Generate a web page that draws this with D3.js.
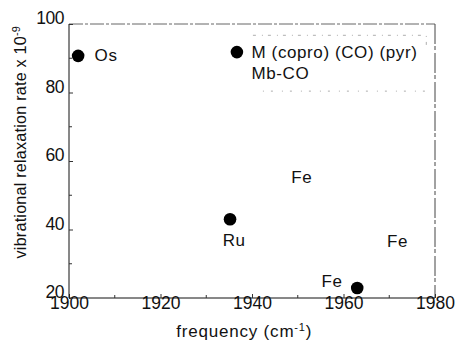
<!DOCTYPE html>
<html>
<head>
<meta charset="utf-8">
<script src="https://cdn.jsdelivr.net/npm/d3@7"></script>
<style>
  body { margin: 0; background: #fff; }
  svg { display: block; font-family: "Liberation Sans", Arial, sans-serif; }
  .tick text { font-size: 17.5px; fill: #111; }
</style>
</head>
<body>
<div id="chart"></div>
<script>
// data
const pointNames = ['Os', 'M (copro) (CO) (pyr)', 'Ru', 'Fe'];
const frequency = [1902, 1936.7, 1935.2, 1963];
const rate = [90.7, 91.8, 43, 22.9];

// text annotations placed in data units
const labelText = ['Os', 'M (copro) (CO) (pyr)', 'Mb-CO', 'Fe', 'Ru', 'Fe', 'Fe'];
const labelX = [1905.6, 1939.9, 1939.9, 1950.9, 1936.1, 1969.5, 1957.5];
const labelY = [90.8, 91.8, 85.7, 55.3, 36.9, 36.6, 25.0];
const labelAnchor = ['start', 'start', 'start', 'middle', 'middle', 'start', 'middle'];

const xTicks = [1900, 1920, 1940, 1960, 1980];
const yTicks = [20, 40, 60, 80, 100];
const xMinor = [1910, 1930, 1950, 1970];
const yMinor = [30, 50, 70, 90];

const width = 456, height = 341;
const margin = { top: 24, right: 21, bottom: 43, left: 69 };
const innerW = width - margin.left - margin.right;
const innerH = height - margin.top - margin.bottom;

const svg = d3.select('#chart').append('svg')
  .attr('width', width)
  .attr('height', height);

const g = svg.append('g')
  .attr('transform', 'translate(' + margin.left + ',' + margin.top + ')');

const x = d3.scaleLinear().domain([1900, 1980]).range([0, innerW]);
const y = d3.scaleLinear().domain([20, 100]).range([innerH, 0]);

// frame: top and right are faint in the scan
g.append('line')
  .attr('x1', 0).attr('x2', innerW).attr('y1', 0).attr('y2', 0)
  .attr('stroke', '#666').attr('stroke-dasharray', '14 2 3 2');
g.append('line')
  .attr('x1', innerW).attr('x2', innerW).attr('y1', 0).attr('y2', innerH)
  .attr('stroke', '#444').attr('stroke-dasharray', '20 2 4 3');

// axes
const xAxis = g.append('g')
  .attr('transform', 'translate(0,' + innerH + ')')
  .call(d3.axisBottom(x).tickValues(xTicks).tickFormat(d3.format('d')).tickSize(-4).tickPadding(1));
const yAxis = g.append('g')
  .call(d3.axisLeft(y).tickValues(yTicks).tickSize(-4).tickPadding(5));

xAxis.select('.domain').attr('stroke', '#111').attr('d', 'M0,0H' + innerW);
yAxis.select('.domain').attr('stroke', '#111').attr('d', 'M0,0V' + innerH);
xAxis.selectAll('.tick line').attr('stroke', '#333');
yAxis.selectAll('.tick line').attr('stroke', '#333');
yAxis.selectAll('.tick text').attr('dy', '-0.02em').attr('letter-spacing', -0.5);
xAxis.selectAll('.tick text').attr('dy', '0.55em');

// minor ticks
g.append('g').selectAll('line').data(xMinor).enter().append('line')
  .attr('x1', d => x(d)).attr('x2', d => x(d))
  .attr('y1', innerH).attr('y2', innerH - 3)
  .attr('stroke', '#333');
g.append('g').selectAll('line').data(yMinor).enter().append('line')
  .attr('x1', 0).attr('x2', 3)
  .attr('y1', d => y(d)).attr('y2', d => y(d))
  .attr('stroke', '#333');

// faint dotted box around the legend-like label block
const boxL = x(1940.2), boxR = x(1978.1), boxT = y(96.7), boxB = y(80.4);
g.append('path')
  .attr('d', 'M' + boxL + ',' + boxT + 'H' + boxR + 'V' + (boxT + 14))
  .attr('fill', 'none').attr('stroke', '#999').attr('stroke-width', 0.8)
  .attr('stroke-dasharray', '3 6 1 5');
g.append('path')
  .attr('d', 'M' + (boxL + 10) + ',' + boxB + 'H' + boxR)
  .attr('fill', 'none').attr('stroke', '#999').attr('stroke-width', 0.8)
  .attr('stroke-dasharray', '1 7 2 9');

// points
g.append('g').selectAll('circle')
  .data(pointNames.map((n, i) => ({ name: n, f: frequency[i], r: rate[i] })))
  .enter().append('circle')
  .attr('cx', d => x(d.f))
  .attr('cy', d => y(d.r))
  .attr('r', 6.3)
  .attr('fill', '#000');

// labels
g.append('g').selectAll('text')
  .data(labelText.map((t, i) => ({ t: t, x: labelX[i], y: labelY[i], a: labelAnchor[i] })))
  .enter().append('text')
  .attr('x', d => x(d.x))
  .attr('y', d => y(d.y))
  .attr('dy', '0.35em')
  .attr('text-anchor', d => d.a)
  .attr('font-size', 17)
  .attr('letter-spacing', 0.6)
  .attr('fill', '#111')
  .text(d => d.t);

// axis titles
const xt = svg.append('text')
  .attr('x', margin.left + x(1938.3))
  .attr('y', 337)
  .attr('text-anchor', 'middle')
  .attr('font-size', 17)
  .attr('letter-spacing', 0.8)
  .attr('fill', '#111');
xt.append('tspan').text('frequency (cm');
xt.append('tspan').attr('dy', -6).attr('font-size', 11).text('-1');
xt.append('tspan').attr('dy', 6).text(')');

const yt = svg.append('text')
  .attr('transform', 'translate(26,' + (margin.top + y(65.5)) + ') rotate(-90)')
  .attr('text-anchor', 'middle')
  .attr('font-size', 16.2)
  .attr('letter-spacing', 0.2)
  .attr('fill', '#111');
yt.append('tspan').text('vibrational relaxation rate x 10');
yt.append('tspan').attr('dy', -6).attr('font-size', 11).text('-9');
</script>
</body>
</html>
